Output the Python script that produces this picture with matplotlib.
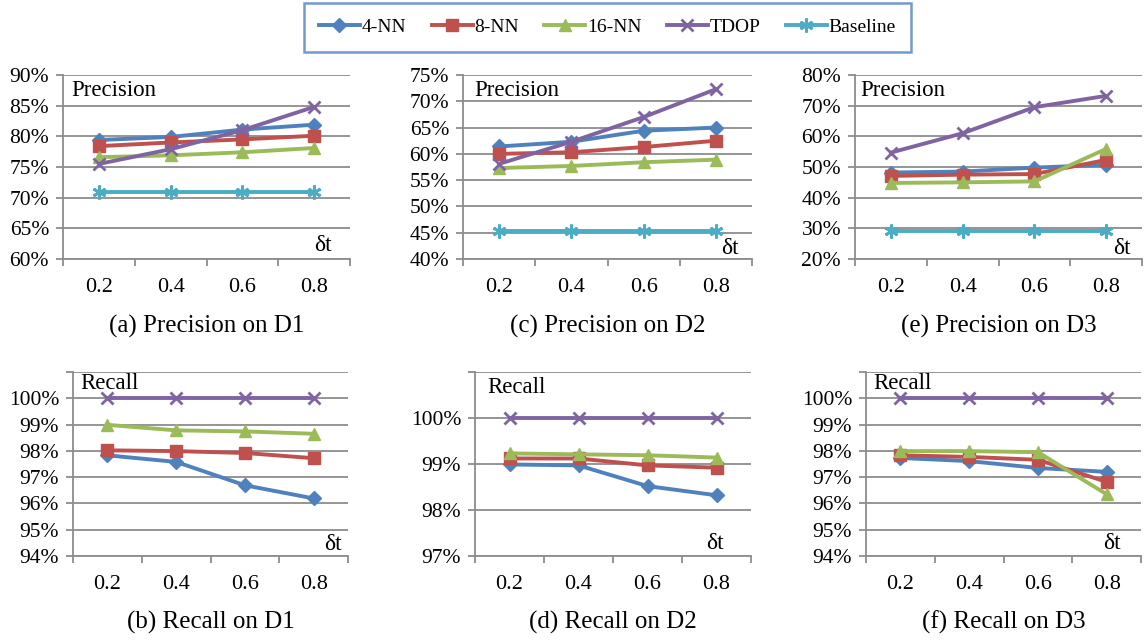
import numpy as np
import matplotlib.pyplot as plt
from matplotlib.ticker import FuncFormatter

plt.rcParams['font.family'] = ['Liberation Serif', 'DejaVu Serif']

# x categories (delta t)
dt_labels = ['0.2', '0.4', '0.6', '0.8']
methods = ['4-NN', '8-NN', '16-NN', 'TDOP', 'Baseline']

# Precision values (%)
prec_d1 = {
    '4-NN': [79.4, 79.9, 81.1, 81.9],
    '8-NN': [78.4, 79.0, 79.5, 80.1],
    '16-NN': [76.6, 76.9, 77.4, 78.1],
    'TDOP': [75.5, 77.9, 81.0, 84.8],
    'Baseline': [70.9, 70.9, 70.9, 70.9],
}
prec_d2 = {
    '4-NN': [61.4, 62.3, 64.4, 65.0],
    '8-NN': [60.0, 60.3, 61.3, 62.5],
    '16-NN': [57.3, 57.7, 58.4, 58.9],
    'TDOP': [58.1, 62.3, 67.0, 72.3],
    'Baseline': [45.4, 45.4, 45.4, 45.4],
}
prec_d3 = {
    '4-NN': [48.2, 48.5, 49.8, 50.7],
    '8-NN': [47.1, 47.5, 47.7, 52.3],
    '16-NN': [44.8, 45.0, 45.3, 55.9],
    'TDOP': [54.7, 61.0, 69.5, 73.2],
    'Baseline': [29.2, 29.2, 29.2, 29.2],
}

# Recall values (%)
rec_d1 = {
    '4-NN': [97.83, 97.58, 96.69, 96.19],
    '8-NN': [98.02, 97.99, 97.92, 97.72],
    '16-NN': [98.99, 98.78, 98.74, 98.65],
    'TDOP': [100, 100, 100, 100],
}
rec_d2 = {
    '4-NN': [98.99, 98.97, 98.52, 98.32],
    '8-NN': [99.12, 99.12, 98.97, 98.92],
    '16-NN': [99.23, 99.21, 99.19, 99.14],
    'TDOP': [100, 100, 100, 100],
}
rec_d3 = {
    '4-NN': [97.73, 97.61, 97.35, 97.20],
    '8-NN': [97.83, 97.77, 97.66, 96.82],
    '16-NN': [97.99, 97.99, 97.95, 96.35],
    'TDOP': [100, 100, 100, 100],
}

colors = {'4-NN': '#4F81BD', '8-NN': '#C0504D', '16-NN': '#9BBB59',
          'TDOP': '#8064A2', 'Baseline': '#4BACC6'}
markers = {'4-NN': 'D', '8-NN': 's', '16-NN': '^', 'TDOP': 'x', 'Baseline': (6, 2, 0)}
msizes = {'4-NN': 7.5, '8-NN': 8.5, '16-NN': 9, 'TDOP': 9, 'Baseline': 10}

grid_c = '#8C8C8C'


def draw_panel(ax, data, ylim, yticks, labeled, label, lab_pos, dt_pos, caption, cap_y):
    x = np.arange(len(dt_labels)) + 0.5
    for m in methods:
        if m not in data:
            continue
        mew = 2 if m in ('TDOP', 'Baseline') else 1
        ax.plot(x, data[m], color=colors[m], lw=2.8, marker=markers[m],
                ms=msizes[m], mew=mew, mec=colors[m], mfc=colors[m],
                solid_capstyle='round', clip_on=False, zorder=3)
    ax.set_xlim(0, len(dt_labels))
    ax.set_ylim(*ylim)
    ax.set_yticks(yticks)
    ax.yaxis.set_major_formatter(FuncFormatter(
        lambda v, p: '%d%%' % round(v) if round(v) in labeled else ''))
    ax.set_xticks(np.arange(len(dt_labels) + 1))
    ax.set_xticklabels([])
    ax.set_xticks(x, minor=True)
    ax.set_xticklabels(dt_labels, minor=True)
    ax.tick_params(axis='x', which='minor', length=0, pad=14, labelsize=16)
    ax.tick_params(axis='x', which='major', length=5, width=1.3, color=grid_c)
    ax.tick_params(axis='y', length=5, width=1.3, color=grid_c, labelsize=15.5, pad=5)
    ax.grid(axis='y', color=grid_c, lw=1.3)
    ax.set_axisbelow(True)
    for s in ['top', 'right']:
        ax.spines[s].set_visible(False)
    for s in ['left', 'bottom']:
        ax.spines[s].set_color(grid_c)
        ax.spines[s].set_linewidth(1.3)
    ax.text(lab_pos[0], lab_pos[1], label, transform=ax.transAxes,
            ha='left', va='center', fontsize=16.5)
    ax.text(dt_pos[0], dt_pos[1], 'δt', transform=ax.transAxes,
            ha='center', va='center', fontsize=17)
    fig.text(ax.get_position().x0 + ax.get_position().width / 2, cap_y, caption,
             ha='center', va='center', fontsize=18)


fig = plt.figure(figsize=(11.45, 6.4), dpi=100)
W, H = 1145.0, 640.0


def add_ax(x0, x1, y0, y1):
    return fig.add_axes([x0 / W, 1 - y1 / H, (x1 - x0) / W, (y1 - y0) / H])


ax_a = add_ax(63, 350, 75, 259)
ax_c = add_ax(463, 752, 75, 259)
ax_e = add_ax(855, 1142, 75, 259)
ax_b = add_ax(73, 348, 372, 556)
ax_d = add_ax(475, 751, 372, 556)
ax_f = add_ax(866, 1141, 372, 556)

top_cap = 1 - 326 / H
bot_cap = 1 - 622 / H

draw_panel(ax_a, prec_d1, (60, 90), range(60, 91, 5), range(60, 91, 5),
           'Precision', (0.03, 0.915), (0.905, 0.075), '(a) Precision on D1', top_cap)
draw_panel(ax_c, prec_d2, (40, 75), range(40, 76, 5), range(40, 76, 5),
           'Precision', (0.04, 0.915), (0.925, 0.055), '(c) Precision on D2', top_cap)
draw_panel(ax_e, prec_d3, (20, 80), range(20, 81, 10), range(20, 81, 10),
           'Precision', (0.017, 0.915), (0.93, 0.055), '(e) Precision on D3', top_cap)
draw_panel(ax_b, rec_d1, (94, 101), range(94, 102), range(94, 101),
           'Recall', (0.025, 0.94), (0.945, 0.06), '(b) Recall on D1', bot_cap)
draw_panel(ax_d, rec_d2, (97, 101), range(97, 102), range(97, 101),
           'Recall', (0.043, 0.918), (0.87, 0.07), '(d) Recall on D2', bot_cap)
draw_panel(ax_f, rec_d3, (94, 101), range(94, 102), range(94, 101),
           'Recall', (0.025, 0.935), (0.895, 0.07), '(f) Recall on D3', bot_cap)

# legend
handles = []
for m in methods:
    mew = 2 if m in ('TDOP', 'Baseline') else 1
    h, = ax_a.plot([], [], color=colors[m], lw=2.8, marker=markers[m],
                   ms=msizes[m], mew=mew, mec=colors[m], mfc=colors[m], label=m)
    handles.append(h)
leg = fig.legend(handles=handles, loc='center', bbox_to_anchor=(607.5 / W, 1 - 27.5 / H),
                 ncol=5, frameon=True, fancybox=False, fontsize=14,
                 handlelength=2.1, handletextpad=0.1, columnspacing=1.3,
                 borderpad=0.8, markerscale=1.0)
leg.get_frame().set_edgecolor('#4F81BD')
leg.get_frame().set_linewidth(1.8)

fig.savefig('out.png', dpi=100)
